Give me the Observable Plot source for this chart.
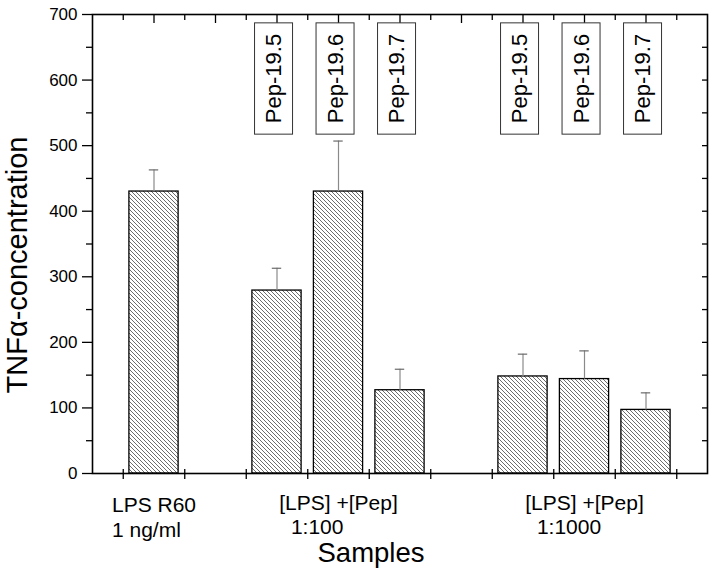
<!DOCTYPE html>
<html>
<head>
<meta charset="utf-8">
<script src="https://cdn.jsdelivr.net/npm/d3@7"></script>
<script src="https://cdn.jsdelivr.net/npm/@observablehq/plot@0.6"></script>
<style>
  html, body { margin: 0; padding: 0; background: #fff; }
  #chart svg { display: block; }
</style>
</head>
<body>
<svg width="0" height="0" style="position:absolute">
  <defs>
    <pattern id="hatch" patternUnits="userSpaceOnUse" width="4" height="4">
      <path d="M-1,-1 L5,5 M-1,3 L1,5 M3,-1 L5,1" stroke="#3c3c3c" stroke-width="0.75"/>
    </pattern>
  </defs>
</svg>
<div id="chart"></div>
<script>
// ---- data ----
const samples = ["LPS R60", "", "Pep-19.5", "Pep-19.6", "Pep-19.7", "", "Pep-19.5", "Pep-19.6", "Pep-19.7"];
const tnf     = [430, null, 279, 430, 127, null, 148, 144, 97];
const sd      = [33,  null, 34,  77,  32,  null, 34,  43,  26];
const groupOf = [0, null, 1, 1, 1, null, 2, 2, 2];
const groupNames = ["LPS R60\n1 ng/ml", "[LPS] +[Pep]\n\u00a0\u00a01:100", "[LPS] +[Pep]\n\u00a0\u00a01:1000"];
const yTicks = [0, 100, 200, 300, 400, 500, 600, 700];
const yTitle = "TNF\u03b1-concentration";
const xTitle = "Samples";

// ---- derived tables ----
const FONT = "'Liberation Sans', Arial, Helvetica, sans-serif";
const data = samples.map((s, i) => ({sample: s, pos: i + 1, value: tnf[i], err: sd[i]}))
  .filter(d => d.value != null);
const pepData = data.filter(d => d.sample.startsWith("Pep"));
const groupData = groupNames.map((name, g) => ({
  name,
  center: d3.mean(samples.map((s, i) => groupOf[i] === g ? i + 1 : null).filter(p => p != null))
}));
const slotCount = samples.length + 1;
const slotCenters = d3.range(1, slotCount);
const slotEdges = d3.range(0.5, slotCount, 1);
const yMinor = d3.range(50, 700, 100);
const yAll = d3.range(50, 700, 50);

const ctx = document.createElement("canvas").getContext("2d");
ctx.font = `21px ${FONT}`;
const measure = s => ctx.measureText(s).width;

const blank = () => "";

const plot = Plot.plot({
  width: 714,
  height: 575,
  marginLeft: 92,
  marginRight: 7,
  marginTop: 14,
  marginBottom: 102,
  style: {fontFamily: FONT, background: "white", color: "black", overflow: "visible"},
  x: {domain: [0, slotCount], axis: null},
  y: {domain: [0, 700], axis: null},
  marks: [
    Plot.rectY(data, {
      x1: d => d.pos - 0.4, x2: d => d.pos + 0.4, y1: 0, y2: "value",
      fill: "url(#hatch)", stroke: "black", strokeWidth: 1.3
    }),
    Plot.ruleX(data, {x: "pos", y1: "value", y2: d => d.value + d.err, stroke: "#8a8a8a", strokeWidth: 1.2}),
    Plot.ruleY(data, {y: d => d.value + d.err, x1: "pos", x2: "pos", insetLeft: -4.7, insetRight: -4.7, stroke: "#6a6a6a", strokeWidth: 1.2}),
    Plot.frame({stroke: "black", strokeWidth: 1.6}),
    // left axis
    Plot.axisY({anchor: "left", ticks: yTicks, tickSize: 10, tickPadding: 5, fontSize: 17, label: null, strokeWidth: 1.3}),
    Plot.axisY({anchor: "left", ticks: yMinor, tickSize: 6, tickFormat: blank, label: null, strokeWidth: 1.3}),
    // right axis (inward ticks)
    Plot.axisY({anchor: "right", ticks: yAll, tickSize: -6, tickFormat: blank, label: null, strokeWidth: 1.3}),
    // bottom axis (ticks crossing)
    Plot.axisX({anchor: "bottom", ticks: slotEdges, tickSize: 6, tickFormat: blank, label: null, strokeWidth: 1.3}),
    Plot.axisX({anchor: "bottom", ticks: slotEdges, tickSize: -4, tickFormat: blank, label: null, strokeWidth: 1.3}),
    // top axis (inward ticks)
    Plot.axisX({anchor: "top", ticks: slotCenters, tickSize: -8, tickFormat: blank, label: null, strokeWidth: 1.3}),
    Plot.axisX({anchor: "top", ticks: slotEdges, tickSize: -5, tickFormat: blank, label: null, strokeWidth: 1.3}),
    // peptide labels
    Plot.text(pepData, {
      x: "pos", text: "sample", frameAnchor: "top", textAnchor: "middle", lineAnchor: "middle",
      dy: 64, dx: -3, rotate: -90, fontSize: 22, fill: "black"
    }),
    // group labels under the axis
    ...groupData.map((g, i) => Plot.text([g], {
      x: "center", text: "name", frameAnchor: "bottom", textAnchor: "start", lineAnchor: "top",
      lineHeight: i === 0 ? 1.2 : 1.1, dy: 20.5, dx: -measure(g.name.split("\n")[0]) / 2,
      fontSize: 21, fill: "black"
    })),
    // axis titles
    Plot.text([yTitle], {text: d => d, frameAnchor: "left", textAnchor: "middle", lineAnchor: "middle",
      rotate: -90, dx: -75, dy: 21, fontSize: 29, fill: "black"}),
    Plot.text([xTitle], {text: d => d, frameAnchor: "bottom", textAnchor: "middle", lineAnchor: "bottom",
      dx: -29, dy: 88.5, fontSize: 27.5, fill: "black"})
  ]
});

document.getElementById("chart").append(plot);

// boxes around peptide labels, sized from the rendered text (screen coordinates)
const NS = "http://www.w3.org/2000/svg";
const pepNames = new Set(pepData.map(d => d.sample));
const svgRect = plot.getBoundingClientRect();
const boxLayer = document.createElementNS(NS, "g");
boxLayer.setAttribute("aria-label", "label boxes");
const targets = [];
plot.querySelectorAll("text").forEach(t => {
  const tr = t.getAttribute("transform") || "";
  if (pepNames.has(t.textContent.trim()) && tr.includes("rotate")) targets.push(t);
});
targets.forEach(t => {
  const b = t.getBoundingClientRect();
  const padX = 6.5, padY = 11;
  const r = document.createElementNS(NS, "rect");
  r.setAttribute("x", b.left - svgRect.left - padX);
  r.setAttribute("y", b.top - svgRect.top - padY);
  r.setAttribute("width", b.width + 2 * padX);
  r.setAttribute("height", b.height + 2 * padY);
  r.setAttribute("fill", "white");
  r.setAttribute("stroke", "#333");
  r.setAttribute("stroke-width", "1");
  boxLayer.append(r);
});
if (targets.length) {
  const textGroup = targets[0].closest("g");
  textGroup.parentNode.insertBefore(boxLayer, textGroup);
}
</script>
</body>
</html>
